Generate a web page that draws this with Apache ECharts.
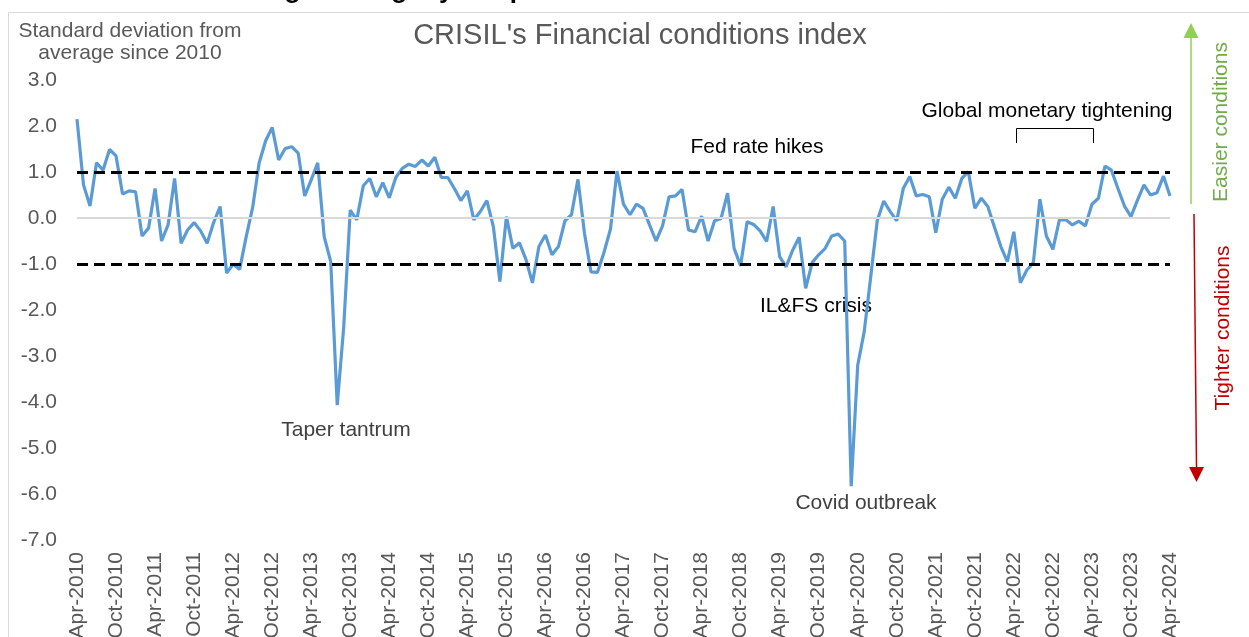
<!DOCTYPE html>
<html>
<head>
<meta charset="utf-8">
<script src="https://cdn.jsdelivr.net/npm/echarts@6/dist/echarts.min.js"></script>
<style>
html,body{margin:0;padding:0;background:#fff;}
#chart{width:1249px;height:637px;}
</style>
</head>
<body>
<div id="chart"></div>
<script>
// ---- DATA ----
const monthNames = ['Jan','Feb','Mar','Apr','May','Jun','Jul','Aug','Sep','Oct','Nov','Dec'];
const startYear = 2010, startMonth = 3; // Apr-2010
const nMonths = 169;                    // Apr-2010 .. Apr-2024
const categories = [];
for (let i = 0; i < nMonths; i++) {
  const m = (startMonth + i) % 12;
  const y = startYear + Math.floor((startMonth + i) / 12);
  categories.push(monthNames[m] + '-' + y);
}
const fciValues = [
  2.15, 0.72, 0.26, 1.20, 1.04, 1.49, 1.35, 0.52, 0.59, 0.57, -0.39, -0.22,
  0.64, -0.50, -0.15, 0.86, -0.55, -0.26, -0.10, -0.28, -0.55, -0.10, 0.25, -1.20,
  -1.00, -1.12, -0.41, 0.23, 1.20, 1.68, 1.97, 1.26, 1.51, 1.55, 1.41, 0.48,
  0.83, 1.20, -0.41, -0.95, -4.07, -2.36, 0.17, -0.04, 0.70, 0.86, 0.46, 0.77,
  0.44, 0.88, 1.08, 1.17, 1.12, 1.26, 1.13, 1.32, 0.88, 0.88, 0.64, 0.38,
  0.59, -0.04, 0.14, 0.38, -0.19, -1.38, 0.03, -0.66, -0.54, -0.90, -1.41, -0.62,
  -0.37, -0.80, -0.62, -0.06, 0.07, 0.84, -0.33, -1.17, -1.18, -0.75, -0.24, 1.02,
  0.30, 0.07, 0.30, 0.21, -0.15, -0.50, -0.17, 0.46, 0.48, 0.62, -0.26, -0.30,
  0.04, -0.50, -0.06, -0.01, 0.54, -0.66, -1.04, -0.08, -0.14, -0.28, -0.51, 0.25,
  -0.84, -1.06, -0.70, -0.42, -1.53, -0.97, -0.80, -0.66, -0.39, -0.35, -0.50, -5.83,
  -3.20, -2.47, -1.28, -0.06, 0.37, 0.14, -0.06, 0.64, 0.90, 0.48, 0.51, 0.46,
  -0.32, 0.41, 0.67, 0.43, 0.86, 1.01, 0.21, 0.43, 0.25, -0.19, -0.62, -0.95,
  -0.30, -1.41, -1.13, -0.97, 0.41, -0.39, -0.68, -0.04, -0.04, -0.15, -0.07, -0.17,
  0.30, 0.43, 1.13, 1.04, 0.64, 0.26, 0.03, 0.39, 0.72, 0.50, 0.55, 0.91,
  0.48
];
const thresholdLines = [1, -1];
const yTicks = { min: -7, max: 3, interval: 1 };

// ---- TEXTS ----
const topTitle = 'Financial conditions tighten slightly in April';
const chartTitle = "CRISIL's Financial conditions index";
const yAxisTitle = 'Standard deviation from\naverage since 2010';

const FONT = "'Liberation Sans', Arial, sans-serif";
const GRAY = '#595959';

const chart = echarts.init(document.getElementById('chart'), null, {renderer: 'canvas'});

chart.setOption({
  animation: false,
  backgroundColor: '#fff',
  textStyle: { fontFamily: FONT },
  title: {
    text: chartTitle,
    left: 635, textAlign: 'center', top: 16,
    textStyle: { color: GRAY, fontSize: 29, fontWeight: 'normal', fontFamily: FONT }
  },
  grid: { left: 77, right: 79, top: 80, bottom: 97, containLabel: false, outerBoundsMode: 'none' },
  xAxis: {
    type: 'category',
    data: categories,
    boundaryGap: false,
    axisLine: { show: false },
    axisTick: { show: false },
    splitLine: { show: false },
    axisLabel: {
      interval: 5, rotate: 90, margin: 12,
      color: GRAY, fontSize: 21, fontFamily: FONT
    }
  },
  yAxis: {
    type: 'value',
    min: yTicks.min, max: yTicks.max, interval: yTicks.interval,
    axisLine: { show: false },
    axisTick: { show: false },
    splitLine: { show: false },
    axisLabel: {
      margin: 20, color: GRAY, fontSize: 21, fontFamily: FONT,
      formatter: v => v.toFixed(1)
    }
  },
  series: [
    {
      name: 'zero', type: 'line', data: [], z: 1, silent: true,
      markLine: {
        silent: true, symbol: 'none', label: { show: false },
        lineStyle: { color: '#D9D9D9', width: 2, type: 'solid' },
        data: [{ yAxis: 0 }]
      }
    },
    {
      name: 'FCI', type: 'line', data: fciValues, z: 3,
      showSymbol: false, smooth: false,
      lineStyle: { color: '#5B9BD5', width: 3.2 },
      itemStyle: { color: '#5B9BD5' }
    },
    {
      name: 'bands', type: 'line', data: [], z: 4, silent: true,
      markLine: {
        silent: true, symbol: 'none', label: { show: false },
        lineStyle: { color: '#000', width: 3, type: [11, 6] },
        data: thresholdLines.map(v => ({ yAxis: v }))
      }
    }
  ],
  graphic: [
    { type: 'rect', z: 0, shape: { x: 8.5, y: 12.5, width: 1300, height: 700 },
      style: { fill: null, stroke: '#D9D9D9', lineWidth: 1 } },
    { type: 'text', x: 10, y: 4,
      style: { text: topTitle, fill: '#000', font: 'bold 26px ' + FONT, align: 'left', verticalAlign: 'bottom' } },
    { type: 'text', x: 130, y: 42,
      style: { text: yAxisTitle, fill: GRAY, fontSize: 21, fontFamily: FONT, lineHeight: 22, align: 'center', verticalAlign: 'middle' } },
    { type: 'text', x: 1047, y: 111,
      style: { text: 'Global monetary tightening', fill: '#000', fontSize: 21, fontFamily: FONT, align: 'center', verticalAlign: 'middle' } },
    { type: 'polyline', shape: { points: [[1016.5, 143], [1016.5, 128.5], [1093.5, 128.5], [1093.5, 143]] },
      style: { stroke: '#000', lineWidth: 1, fill: null } },
    { type: 'text', x: 757, y: 147,
      style: { text: 'Fed rate hikes', fill: '#000', fontSize: 21, fontFamily: FONT, align: 'center', verticalAlign: 'middle' } },
    { type: 'text', x: 816, y: 306,
      style: { text: 'IL&FS crisis', fill: '#000', fontSize: 21, fontFamily: FONT, align: 'center', verticalAlign: 'middle' } },
    { type: 'text', x: 866, y: 503,
      style: { text: 'Covid outbreak', fill: '#404040', fontSize: 21, fontFamily: FONT, align: 'center', verticalAlign: 'middle' } },
    { type: 'text', x: 346, y: 430,
      style: { text: 'Taper tantrum', fill: '#404040', fontSize: 21, fontFamily: FONT, align: 'center', verticalAlign: 'middle' } },
    // Easier conditions arrow
    { type: 'line', shape: { x1: 1191, y1: 204, x2: 1191, y2: 37 },
      style: { stroke: '#92D050', lineWidth: 1.5 } },
    { type: 'polygon', shape: { points: [[1191, 23], [1183.5, 38], [1198.5, 38]] },
      style: { fill: '#92D050' } },
    { type: 'text', x: 1221, y: 122, rotation: Math.PI / 2,
      style: { text: 'Easier conditions', fill: '#70AD47', fontSize: 21, fontFamily: FONT, align: 'center', verticalAlign: 'middle' } },
    // Tighter conditions arrow
    { type: 'line', shape: { x1: 1194, y1: 214, x2: 1196.5, y2: 468 },
      style: { stroke: '#C00000', lineWidth: 1.5 } },
    { type: 'polygon', shape: { points: [[1196.5, 482], [1189, 467], [1204, 467]] },
      style: { fill: '#C00000' } },
    { type: 'text', x: 1223, y: 328, rotation: Math.PI / 2,
      style: { text: 'Tighter conditions', fill: '#C00000', fontSize: 21, fontFamily: FONT, align: 'center', verticalAlign: 'middle' } }
  ]
});
</script>
</body>
</html>
